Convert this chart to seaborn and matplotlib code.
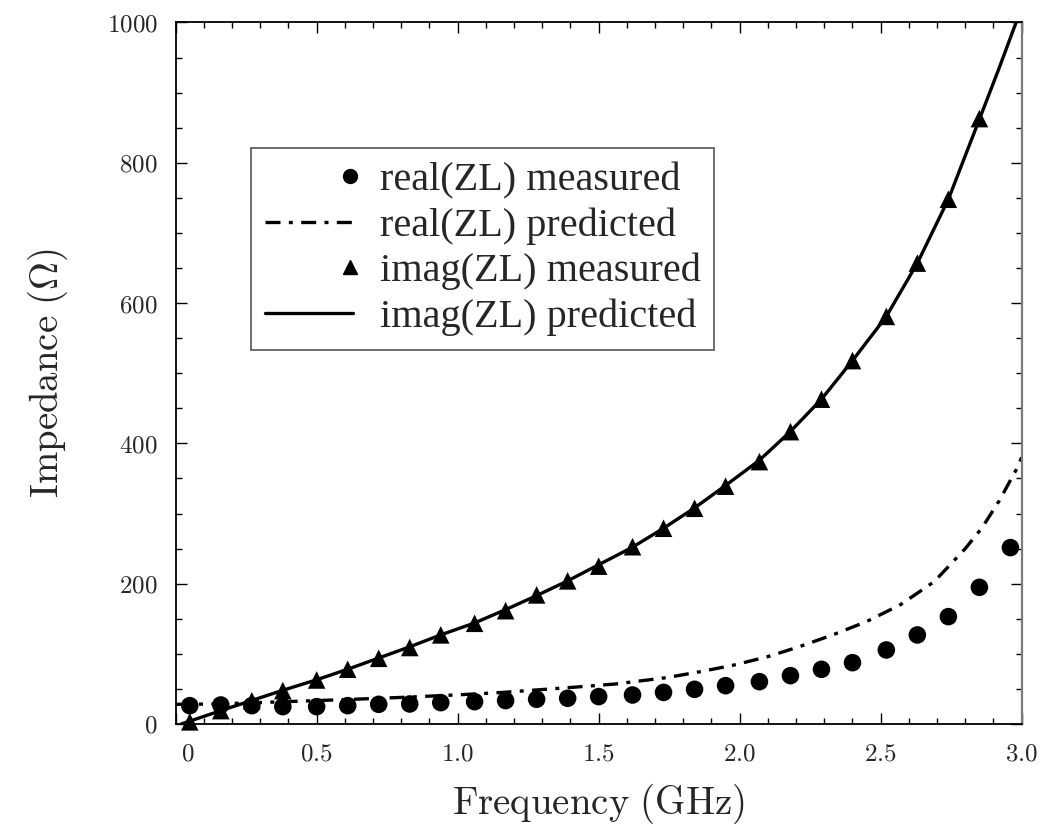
import numpy as np
import pandas as pd
import matplotlib
matplotlib.use("Agg")
import matplotlib.pyplot as plt
import seaborn as sns
from matplotlib.lines import Line2D
from matplotlib.legend_handler import HandlerLine2D
from matplotlib.ticker import MultipleLocator, FixedLocator
from matplotlib.transforms import ScaledTranslation

# ---------------- data ----------------
freq = [0.05, 0.16, 0.27, 0.38, 0.50, 0.61, 0.72, 0.83, 0.94, 1.06, 1.17, 1.28, 1.39, 1.50,
        1.62, 1.73, 1.84, 1.95, 2.07, 2.18, 2.29, 2.40, 2.52, 2.63, 2.74, 2.85, 2.96]
real_measured = [26.1, 27.1, 26.1, 24.7, 24.7, 26.1, 28.0, 28.5, 30.4, 31.8, 33.3, 35.2, 36.6, 39.0,
                 41.3, 45.0, 49.4, 54.6, 60.3, 68.9, 77.9, 87.4, 105.5, 126.9, 153.0, 194.8, 251.4]
imag_measured = [3, 19, 33, 47.5, 62.7, 78, 93.6, 109, 127, 143.5, 161.5, 184, 204, 225,
                 252.7, 279, 307.5, 339, 374, 416.7, 463, 518, 581, 657, 748, 863, np.nan]

real_pred_f = [0.0, 0.10, 0.20, 0.33, 0.50, 0.65, 0.81, 1.00, 1.16, 1.28, 1.40, 1.56, 1.74, 1.86,
               1.98, 2.10, 2.21, 2.33, 2.45, 2.57, 2.69, 2.80, 2.86, 2.92, 2.98, 3.00]
real_pred_v = [28.0, 28.3, 29.2, 31.0, 33.3, 35.5, 38.0, 41.5, 45.0, 48.5, 52.0, 57.0, 66.0, 74.5,
               84.0, 96.0, 110.0, 127.0, 146.0, 170.0, 203.0, 250.0, 280.0, 318.0, 362.0, 380.0]

imag_pred_f = [0.02, 0.05, 0.16, 0.27, 0.38, 0.50, 0.61, 0.72, 0.83, 0.94, 1.06, 1.17, 1.28, 1.39, 1.50,
               1.62, 1.73, 1.84, 1.95, 2.07, 2.18, 2.29, 2.40, 2.52, 2.63, 2.74, 2.85, 2.92, 2.98, 3.00]
imag_pred_v = [0, 4, 19, 33.5, 48, 63, 78, 94, 110, 127, 144, 163, 183, 204, 227,
               252, 279, 308, 340, 376, 417, 463, 518, 581, 657, 748, 862, 935, 1000, 1025]

x_ticks = [0, 0.5, 1.0, 1.5, 2.0, 2.5, 3.0]
x_tick_labels = ["0", "0.5", "1.0", "1.5", "2.0", "2.5", "3.0"]
y_ticks = [0, 200, 400, 600, 800, 1000]
y_tick_labels = ["0", "200", "400", "600", "800", "1000"]
legend_labels = ["real(ZL) measured", "real(ZL) predicted", "imag(ZL) measured", "imag(ZL) predicted"]

# ---------------- style ----------------
sns.set_style("ticks")
plt.rcParams["font.family"] = ["DejaVu Serif"]
plt.rcParams["mathtext.fontset"] = "cm"

DASHDOT = (0, (4.5, 2.5, 1.2, 2.5))

fig = plt.figure(figsize=(10.45, 8.24), dpi=100)
ax = fig.add_axes([0.1681, 0.1214, 0.8096, 0.8513])

sns.lineplot(x=real_pred_f, y=real_pred_v, ax=ax, color="black", lw=2.4,
             linestyle=DASHDOT, legend=False, zorder=2)
sns.lineplot(x=imag_pred_f, y=imag_pred_v, ax=ax, color="black", lw=2.4,
             linestyle="-", legend=False, zorder=2)
sns.scatterplot(x=freq, y=real_measured, ax=ax, marker="o", s=160, color="black",
                edgecolor="none", legend=False, zorder=3, clip_on=False)
sns.scatterplot(x=freq, y=imag_measured, ax=ax, marker="^", s=160, color="black",
                edgecolor="none", legend=False, zorder=3, clip_on=False)

ax.set_xlim(0, 3.0)
ax.set_ylim(0, 1000)

ax.xaxis.set_major_locator(FixedLocator(x_ticks))
ax.yaxis.set_major_locator(FixedLocator(y_ticks))
ax.set_xticklabels(["$%s$" % t for t in x_tick_labels], fontsize=18)
ax.set_yticklabels(["$%s$" % t for t in y_tick_labels], fontsize=18)
ax.xaxis.set_minor_locator(MultipleLocator(0.1))
ax.yaxis.set_minor_locator(MultipleLocator(50))
ax.tick_params(which="both", direction="in", top=True, right=True, color="black")
ax.tick_params(which="major", length=7.7, width=1.0)
ax.tick_params(which="minor", length=4.1, width=1.0)
ax.tick_params(axis="y", which="major", pad=13)
ax.tick_params(axis="x", which="major", pad=13)
lab0 = ax.get_xticklabels()[0]
lab0.set_transform(lab0.get_transform() + ScaledTranslation(12 / 100, 0, fig.dpi_scale_trans))

for side in ["left", "bottom", "top"]:
    ax.spines[side].set_linewidth(1.3)
    ax.spines[side].set_color("black")
ax.spines["right"].set_linewidth(1.6)
ax.spines["right"].set_color("#7a7a7a")

ax.set_xlabel(r"$\mathrm{Frequency\ (GHz)}$", fontsize=28, labelpad=12)
ax.set_ylabel(r"$\mathrm{Impedance\ (\Omega)}$", fontsize=28, labelpad=26)


class RightMarkerHandler(HandlerLine2D):
    """Legend entry with a single marker at the right end of the handle area."""
    def create_artists(self, legend, orig_handle, xdescent, ydescent, width, height,
                       fontsize, trans):
        x = -xdescent + width - 0.08 * fontsize
        y = (height - ydescent) / 2
        mk = Line2D([x], [y], linestyle="none", marker=orig_handle.get_marker(),
                    markersize=orig_handle.get_markersize(), color="black",
                    markeredgecolor="black")
        mk.set_transform(trans)
        return [mk]


handles = [
    Line2D([], [], marker="o", color="black", linestyle="none", markersize=10),
    Line2D([], [], color="black", lw=2.4, linestyle=DASHDOT),
    Line2D([], [], marker="^", color="black", linestyle="none", markersize=10),
    Line2D([], [], color="black", lw=2.4, linestyle="-"),
]
leg = ax.legend(handles, legend_labels, loc="upper left", bbox_to_anchor=(0.0886, 0.821),
                borderaxespad=0, prop={"family": "Liberation Serif", "size": 29},
                handlelength=2.2, handletextpad=0.65, labelspacing=0.2, borderpad=0.35,
                fancybox=False, framealpha=1, edgecolor="#555555",
                handler_map={handles[0]: RightMarkerHandler(), handles[2]: RightMarkerHandler()})
leg.get_frame().set_linewidth(1.2)

fig.savefig("out.png", dpi=100)
